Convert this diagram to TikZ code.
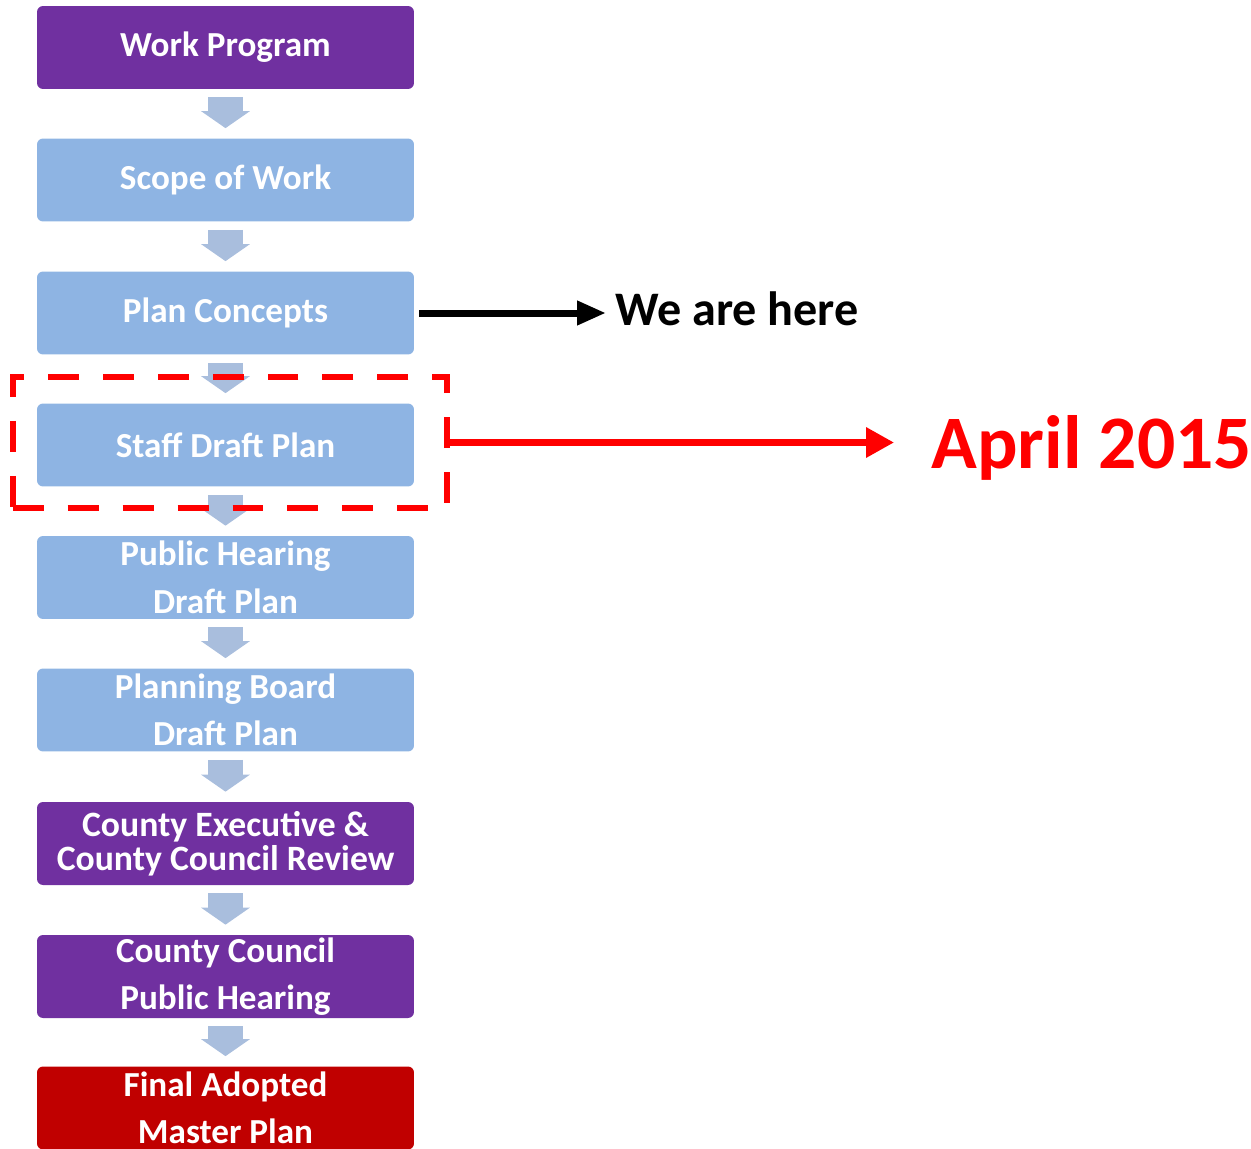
\documentclass[tikz,border=0pt]{standalone}
\usepackage{fontspec}
\setmainfont{Carlito}
\usetikzlibrary{arrows.meta}
\definecolor{stepviolet}{HTML}{7030A0}
\definecolor{stepblue}{HTML}{8EB4E3}
\definecolor{stepred}{HTML}{C00000}
\definecolor{flowblue}{HTML}{A9BEDD}

\begin{document}
\begin{tikzpicture}[x=0.02cm,y=-0.02cm,
  stage/.style={rounded corners=0.12cm,minimum width=7.54cm,minimum height=1.66cm,
    inner sep=0pt,text=white,align=center,font=\fontsize{20}{27}\selectfont\bfseries},
  flow/.style={flowblue,line width=0.7cm,shorten <=0.16cm,shorten >=0.2cm,
    -{Triangle[width=0.96cm,length=0.34cm]}}]
  \useasboundingbox (0,0) rectangle (1251,1149);
  \node[stage,fill=stepviolet] (s1) at (225.5,47.5) {Work Program};
  \node[stage,fill=stepblue] (s2) at (225.5,180) {Scope of Work};
  \node[stage,fill=stepblue] (s3) at (225.5,313) {Plan Concepts};
  \node[stage,fill=stepblue] (s4) at (225.5,445) {Staff Draft Plan};
  \node[stage,fill=stepblue] (s5) at (225.5,577.5) {Public Hearing\\Draft Plan};
  \node[stage,fill=stepblue] (s6) at (225.5,710) {Planning Board\\Draft Plan};
  \node[stage,fill=stepviolet,font=\fontsize{20.3}{19.4}\selectfont\bfseries] (s7) at (225.5,843.5)
    {County Executive \&\\County Council Review};
  \node[stage,fill=stepviolet] (s8) at (225.5,976.5) {County Council\\Public Hearing};
  \node[stage,fill=stepred,font=\fontsize{20}{26.5}\selectfont\bfseries] (s9) at (225.5,1108)
    {Final Adopted\\Master Plan};
  \foreach \a/\b in {s1/s2,s2/s3,s3/s4,s4/s5,s5/s6,s6/s7,s7/s8,s8/s9}
    \draw[flow] (\a) -- (\b);
  % current step
  \node[draw=red,line width=0.12cm,dash pattern=on 0.62cm off 0.48cm,minimum width=8.7cm,
    minimum height=2.62cm,inner sep=0pt] (now) at (230,442.5) {};
  \node[anchor=base west,inner sep=0pt,font=\fontsize{27.4}{30}\selectfont\bfseries] (here)
    at (615,325) {We are here};
  \node[anchor=base west,inner sep=0pt,text=red,font=\fontsize{43}{48}\selectfont\bfseries] (apr)
    at (931,468) {April 2015};
  \draw[line width=0.14cm,shorten <=0.1cm,shorten >=0.18cm,-{Triangle[width=0.46cm,length=0.58cm]}]
    (s3.east) -- (s3.east -| here.west);
  \draw[red,line width=0.13cm,shorten >=0.74cm,-{Triangle[width=0.58cm,length=0.56cm]}]
    (now.east) -- (now.east -| apr.west);
\end{tikzpicture}
\end{document}
